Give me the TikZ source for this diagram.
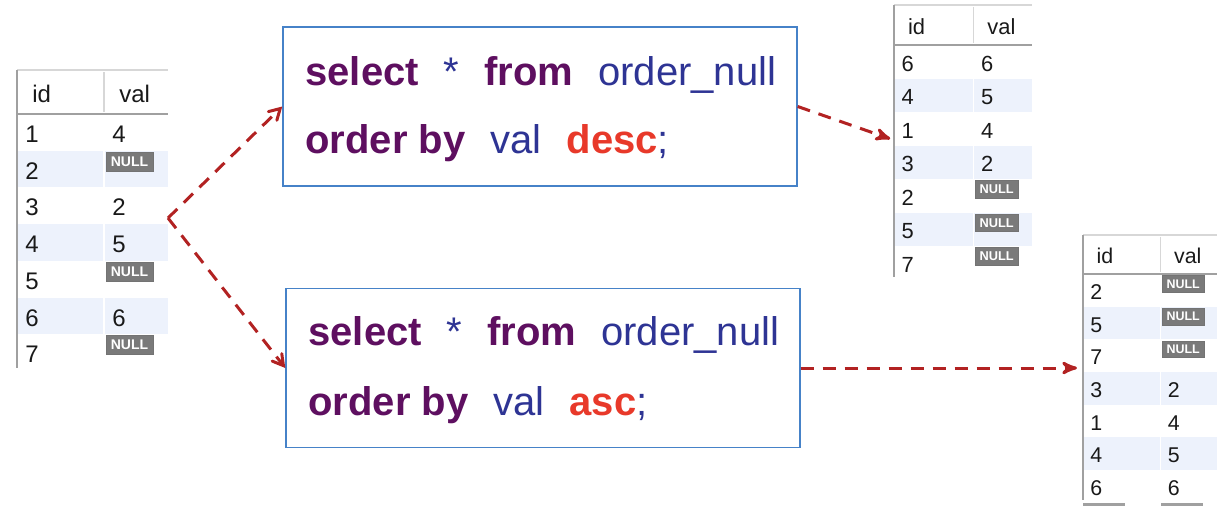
\documentclass[tikz,border=0pt]{standalone}
\usepackage{fontspec}
\setmainfont{Liberation Sans}
\usepackage{ifthen}
\usetikzlibrary{arrows}

\definecolor{kwpurple}{RGB}{94,15,96}
\definecolor{idblue}{RGB}{46,52,148}
\definecolor{ordred}{RGB}{232,57,42}
\definecolor{boxblue}{RGB}{70,130,200}
\definecolor{flowred}{RGB}{178,34,34}
\definecolor{rowshade}{RGB}{237,242,252}
\definecolor{gridgray}{RGB}{160,160,160}
\definecolor{lightgrid}{RGB}{215,215,215}
\definecolor{nullgray}{RGB}{122,122,122}

\newcommand{\kw}[1]{\textcolor{kwpurple}{\bfseries #1}}
\newcommand{\nm}[1]{\textcolor{idblue}{#1}}
\newcommand{\dir}[1]{\textcolor{ordred}{\bfseries #1}}
\newcommand{\gap}{\hspace{12.5pt}}

% result grid, drawn in its own scope: #1 name, #2 id/val rows (N = NULL)
\newcommand{\resultgrid}[2]{%
  \draw[lightgrid, line width=0.8pt] (0,0) -- (151,0);
  \draw[lightgrid, line width=0.8pt] (87,2) -- (87,42);
  \node[cell] (#1-hid) at (15,32) {id};
  \node[cell] (#1-hval) at (102,32) {val};
  \foreach \cid/\cval [count=\rownum] in {#2} {
    \pgfmathsetmacro{\rowtop}{44+(\rownum-1)*36.7}
    \ifodd\rownum\else
      \fill[rowshade] (1,\rowtop) rectangle (86,\rowtop+36.7);
      \fill[rowshade] (88,\rowtop) rectangle (151,\rowtop+36.7);
    \fi
    \node[cell] (#1-id-\rownum) at (8,\rowtop+28.5) {\cid};
    \ifthenelse{\equal{\cval}{N}}
      {\node[nullbadge] (#1-val-\rownum) at (112.5,\rowtop+11) {NULL};}
      {\node[cell] (#1-val-\rownum) at (95,\rowtop+28.5) {\cval};}
  }
  \draw[gridgray, line width=1.3pt] (0,44) -- (151,44);
  \draw[gridgray, line width=1pt] (0,0) -- (0,298);
  \coordinate (#1-in) at (0,148);
  \coordinate (#1-out) at (151,148);
}

\begin{document}
\begin{tikzpicture}[x=0.5pt, y=-0.5pt,
    cell/.style={anchor=base west, inner sep=0pt, text=black!90,
      font=\fontsize{12}{14}\selectfont},
    nullbadge/.style={fill=nullgray, draw=black!55, line width=0.3pt, text=white,
      inner sep=0pt, minimum width=23.5pt, minimum height=9.5pt,
      font=\bfseries\fontsize{7}{8}\selectfont},
    query/.style={draw=boxblue, line width=0.7pt, fill=white,
      minimum width=257pt, minimum height=79.5pt},
    sqlline/.style={anchor=base west, inner sep=0pt,
      font=\fontsize{20}{24}\selectfont},
    flow/.style={draw=flowred, line width=1.5pt, dash pattern=on 6.5pt off 4.5pt}]
  \useasboundingbox (0,0) rectangle (1228,516);

  % source table
  \begin{scope}[shift={(17,70)}]
    \resultgrid{src}{1/4, 2/N, 3/2, 4/5, 5/N, 6/6, 7/N}
  \end{scope}

  % order by desc
  \begin{scope}[shift={(894,5)}, scale=0.913, transform shape]
    \resultgrid{desc}{6/6, 4/5, 1/4, 3/2, 2/N, 5/N, 7/N}
  \end{scope}

  % order by asc
  \begin{scope}[shift={(1083,235)}, scale=0.89, transform shape]
    \resultgrid{asc}{2/N, 5/N, 7/N, 3/2, 1/4, 4/5, 6/6}
    \draw[gridgray, line width=1.2pt] (0,303) -- (47,303) (88,303) -- (135,303);
  \end{scope}

  % the two queries
  \node[query] (qdesc) at (540,106.5) {};
  \node[sqlline] (qdesc-l1) at (305,85)
    {\kw{select}\gap\nm{*}\gap\kw{from}\gap\nm{order\_null}};
  \node[sqlline] (qdesc-l2) at (305,153)
    {\kw{order by}\gap\nm{val}\gap\dir{desc}\nm{;}};

  \node[query] (qasc) at (543,368) {};
  \node[sqlline] (qasc-l1) at (308,345)
    {\kw{select}\gap\nm{*}\gap\kw{from}\gap\nm{order\_null}};
  \node[sqlline] (qasc-l2) at (308,415)
    {\kw{order by}\gap\nm{val}\gap\dir{asc}\nm{;}};

  \draw[flow, -angle 60] (src-out) -- (qdesc.west);
  \draw[flow, -angle 60] (src-out) -- (qasc.west);
  \draw[flow, -stealth', shorten >=2pt] (qdesc.east) -- (desc-in);
  \draw[flow, -stealth', shorten >=3pt] (qasc.east) -- (qasc.east -| asc-in);
\end{tikzpicture}
\end{document}
